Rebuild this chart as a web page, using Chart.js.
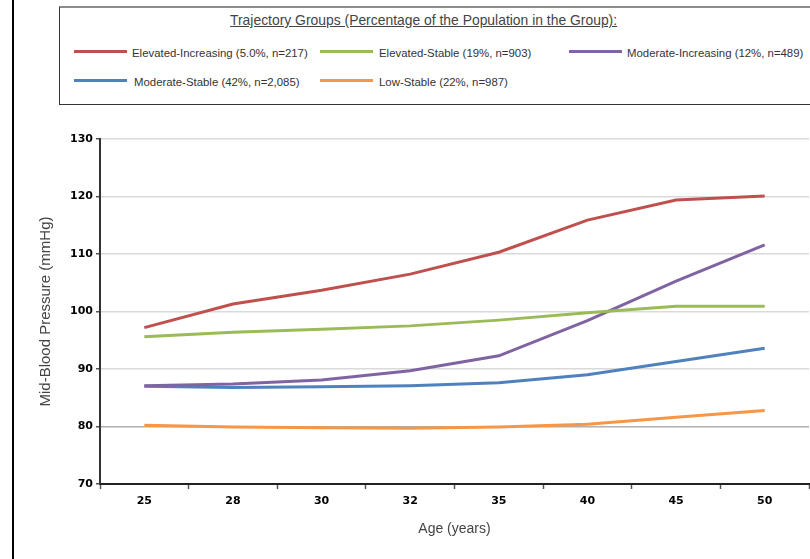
<!DOCTYPE html>
<html>
<head>
<meta charset="utf-8">
<title>Mid-Blood Pressure Trajectories</title>
<script src="https://cdn.jsdelivr.net/npm/chart.js@4.4.0/dist/chart.umd.min.js"></script>
<style>
  body { margin: 0; width: 810px; height: 559px; overflow: hidden; background: #fff; position: relative;
         font-family: "Liberation Sans", Arial, sans-serif; }
  #frame { position: absolute; left: 12px; top: 0; width: 2px; height: 559px; background: #000; }
  #legendBox { position: absolute; left: 59px; top: 6px; width: 780px; height: 96px;
               border: 1px solid #333; border-top: 2px solid #8c8c8c; }
  #legendTitle { position: absolute; left: 230px; top: 12px; font-size: 13.9px; color: #444;
                 text-decoration: underline; white-space: nowrap; }
  .swatch { position: absolute; width: 53px; height: 3px; }
  .lbl { position: absolute; font-size: 11.4px; line-height: 14px; color: #333; white-space: nowrap; }
  canvas { position: absolute; left: 0; top: 0; }
</style>
</head>
<body>
<div id="frame"></div>
<div id="legendBox"></div>
<div id="legendTitle">Trajectory Groups (Percentage of the Population in the Group):</div>
<div id="legendItems"></div>
<canvas id="myChart" width="810" height="559"></canvas>
<script>
// idades (eixo x) e valores de cada grupo
var ages = ['25', '28', '30', '32', '35', '40', '45', '50'];
var elevatedIncreasing = [97.2, 101.3, 103.7, 106.5, 110.3, 115.9, 119.4, 120.1];
var elevatedStable     = [95.6, 96.4, 96.9, 97.5, 98.5, 99.8, 100.9, 100.9];
var moderateIncreasing = [87.1, 87.4, 88.1, 89.7, 92.3, 98.4, 105.3, 111.6];
var moderateStable     = [87.0, 86.8, 86.9, 87.1, 87.6, 89.0, 91.3, 93.6];
var lowStable          = [80.2, 79.9, 79.8, 79.7, 79.9, 80.4, 81.6, 82.8];
var groupNames = [
  'Elevated-Increasing (5.0%, n=217)',
  'Elevated-Stable (19%, n=903)',
  'Moderate-Increasing (12%, n=489)',
  'Moderate-Stable (42%, n=2,085)',
  'Low-Stable (22%, n=987)'
];
var yTicks = [70, 80, 90, 100, 110, 120, 130];

var colors = ['#C0504D', '#9BBB59', '#8064A2', '#4F81BD', '#F79646'];
var series = [elevatedIncreasing, elevatedStable, moderateIncreasing, moderateStable, lowStable];

var datasets = series.map(function (values, i) {
  return {
    label: groupNames[i],
    data: values,
    borderColor: colors[i],
    backgroundColor: colors[i],
    borderWidth: 3,
    pointRadius: 0,
    tension: 0,
    fill: false
  };
});

var tickFont = { family: '"DejaVu Sans", Verdana, sans-serif', size: 11, weight: 'bold' };

var ctx = document.getElementById('myChart').getContext('2d');
var myChart = new Chart(ctx, {
  type: 'line',
  data: { labels: ages, datasets: datasets },
  options: {
    responsive: false,
    animation: false,
    layout: { padding: { left: 14, top: 139, right: 1, bottom: 0 } },
    plugins: { legend: { display: false }, tooltip: { enabled: false } },
    scales: {
      x: {
        type: 'category',
        offset: true,
        afterFit: function (scale) { scale.height = 75; },
        grid: { offset: true, drawOnChartArea: false, drawTicks: true, tickLength: 5, tickColor: '#555', tickWidth: 1.5 },
        border: { color: '#222', width: 2 },
        ticks: { color: '#000', font: tickFont, padding: 6, maxRotation: 0 },
        title: { display: true, text: 'Age (years)', color: '#444',
                 font: { family: '"Liberation Sans", Arial, sans-serif', size: 14 }, padding: { bottom: 21 } }
      },
      y: {
        min: 70,
        max: 130,
        afterFit: function (scale) { scale.width = 86; },
        afterBuildTicks: function (scale) { scale.ticks = yTicks.map(function (v) { return { value: v }; }); },
        grid: {
          color: function (c) { return c.tick && c.tick.value === 80 ? '#b0b0b0' : '#dadada'; },
          lineWidth: 1.5,
          tickLength: 4,
          tickColor: '#555',
          tickWidth: 1.5
        },
        border: { color: '#333', width: 2 },
        ticks: { color: '#000', font: tickFont, padding: 3 },
        title: { display: true, text: 'Mid-Blood Pressure (mmHg)', color: '#444',
                 font: { family: '"Liberation Sans", Arial, sans-serif', size: 15 }, padding: { top: 23 } }
      }
    }
  }
});

// legenda em caixa, 3 colunas x 2 linhas
var slots = [
  { x: 74, tx: 132, y: 53 },
  { x: 320, tx: 379, y: 53 },
  { x: 569, tx: 627, y: 53 },
  { x: 74, tx: 134, y: 82 },
  { x: 320, tx: 379, y: 82 }
];
var holder = document.getElementById('legendItems');
myChart.data.datasets.forEach(function (ds, i) {
  var s = slots[i];
  var sw = document.createElement('div');
  sw.className = 'swatch';
  sw.style.left = s.x + 'px';
  sw.style.top = (s.y - 3) + 'px';
  sw.style.background = ds.borderColor;
  holder.appendChild(sw);
  var t = document.createElement('div');
  t.className = 'lbl';
  t.style.left = s.tx + 'px';
  t.style.top = (s.y - 7) + 'px';
  t.textContent = ds.label;
  holder.appendChild(t);
});
</script>
</body>
</html>
